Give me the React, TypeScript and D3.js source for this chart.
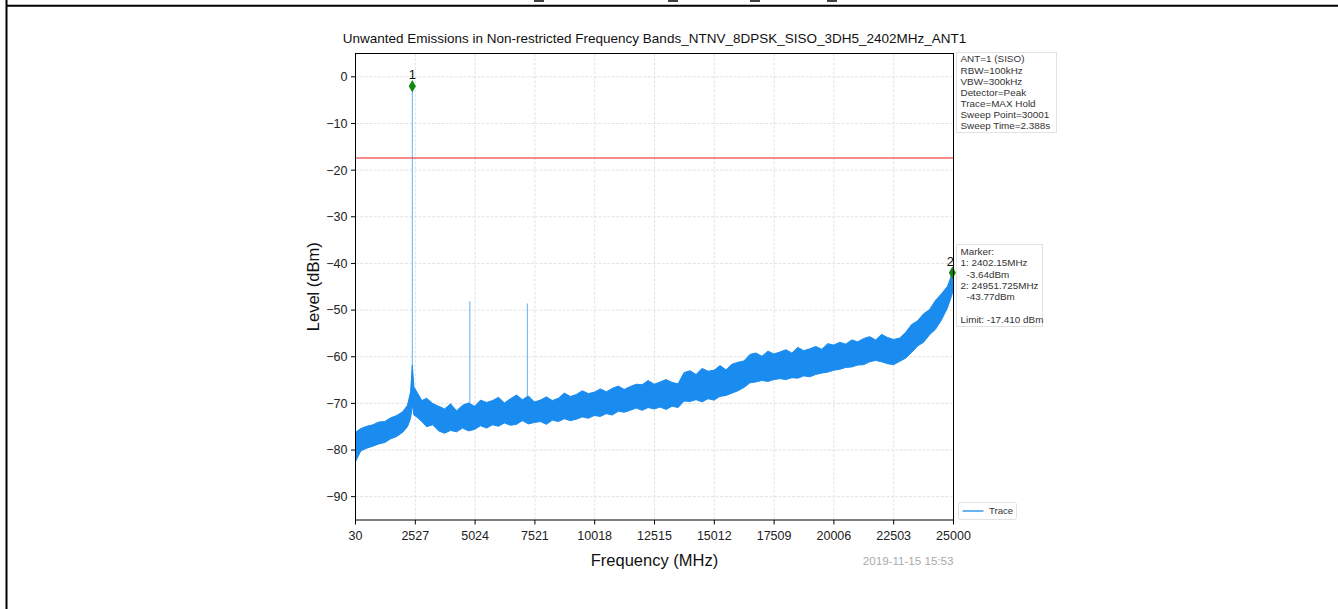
import * as d3 from "d3";

const TITLE = "Unwanted Emissions in Non-restricted Frequency Bands_NTNV_8DPSK_SISO_3DH5_2402MHz_ANT1";
const xTicks = [30, 2527, 5024, 7521, 10018, 12515, 15012, 17509, 20006, 22503, 25000];
const yTicks = [0, -10, -20, -30, -40, -50, -60, -70, -80, -90];
const limitDbm = -17.41;

// trace envelope (MHz, upper dBm, lower dBm)
const traceFreq = [30, 250, 500, 750, 1000, 1250, 1500, 1750, 2000, 2200, 2330, 2402, 2470, 2600, 2800, 3000, 3250, 3500, 3750, 4000, 4250, 4500, 4750, 5000, 5250, 5500, 5750, 6000, 6250, 6500, 6750, 7000, 7250, 7500, 7750, 8000, 8250, 8500, 8750, 9000, 9250, 9500, 9750, 10000, 10250, 10500, 10750, 11000, 11250, 11500, 11750, 12000, 12250, 12500, 12750, 13000, 13250, 13500, 13750, 14000, 14250, 14500, 14750, 15000, 15250, 15500, 15750, 16000, 16250, 16500, 16750, 17000, 17250, 17500, 17750, 18000, 18250, 18500, 18750, 19000, 19250, 19500, 19750, 20000, 20250, 20500, 20750, 21000, 21250, 21500, 21750, 22000, 22250, 22500, 22750, 23000, 23250, 23500, 23750, 24000, 24250, 24500, 24750, 25000];
const traceHigh = [-76.2, -75.4, -74.9, -74.6, -74.0, -73.9, -73.1, -72.6, -71.8, -70.4, -67.5, -61.8, -66.5, -67.6, -69.4, -68.9, -70.0, -70.6, -71.2, -70.1, -71.6, -70.4, -69.9, -70.6, -69.3, -69.8, -69.4, -68.7, -69.9, -69.0, -68.2, -69.2, -68.4, -69.7, -69.3, -68.6, -69.4, -68.9, -67.8, -68.5, -68.1, -67.3, -67.9, -67.6, -66.9, -67.5, -66.8, -66.3, -67.0, -66.4, -65.9, -66.0, -65.1, -65.9, -65.4, -64.9, -65.5, -65.8, -63.4, -63.0, -63.8, -62.5, -63.1, -62.9, -61.9, -62.8, -61.6, -61.2, -60.9, -59.5, -59.2, -59.9, -58.8, -59.4, -59.0, -58.5, -59.2, -58.0, -58.7, -58.3, -57.8, -58.4, -57.2, -57.5, -56.9, -57.3, -56.4, -56.8, -56.1, -55.7, -56.4, -55.2, -55.9, -56.3, -56.0, -54.8, -53.1, -52.3, -50.8, -49.9, -47.9, -46.5, -44.9, -41.4];
const traceLow = [-82.5, -80.2, -79.6, -79.2, -78.7, -78.4, -77.6, -77.1, -76.2, -75.0, -73.2, -70.4, -72.5, -73.0, -73.9, -75.0, -74.6, -75.9, -76.4, -75.8, -76.1, -75.3, -75.9, -75.6, -74.8, -75.3, -74.6, -74.9, -74.2, -74.7, -74.5, -73.7, -74.4, -74.1, -73.9, -74.5, -73.6, -73.9, -73.3, -73.7, -73.4, -72.9, -73.2, -72.6, -72.8, -72.2, -72.5, -71.7, -71.9, -71.5, -71.0, -71.5, -70.9, -71.2, -70.8, -71.3, -70.6, -70.9, -69.5, -69.6, -69.2, -69.7, -69.0, -69.3, -68.5, -68.3, -67.8, -67.3, -66.6, -65.6, -65.4, -65.1, -65.3, -64.9, -64.7, -64.9, -64.5, -64.6, -64.1, -64.3, -63.8, -63.5, -63.3, -62.9, -62.7, -62.3, -62.2, -61.8, -61.7, -61.1, -60.8, -61.1, -61.5, -61.7, -61.0, -60.3, -59.1, -57.7, -56.9, -55.3, -54.1, -52.1, -49.5, -45.7];

const spikeFreq = [2402.15, 4804, 7206];
const spikeTop = [-2.0, -48.1, -48.6];
const spikeBase = [-70, -73, -72];

const markerName = ["1", "2"];
const markerFreq = [2402.15, 24951.725];
const markerLevel = [-2.0, -42.0];

const settingsLines = ["ANT=1 (SISO)", "RBW=100kHz", "VBW=300kHz", "Detector=Peak", "Trace=MAX Hold", "Sweep Point=30001", "Sweep Time=2.388s"];
const markerLines = ["Marker:", "1: 2402.15MHz", "-3.64dBm", "2: 24951.725MHz", "-43.77dBm", "", "Limit: -17.410 dBm"];
const markerIndent = [0, 0, 1, 0, 1, 0, 0];
const stamp = "2019-11-15 15:53";

const W = 1338;
const H = 609;
const m = { left: 355.5, right: 953.5, top: 53.5, bottom: 520 };
const FONT = "'Liberation Sans', Arial, sans-serif";
const BLUE = "#1a8cf0";

export default function App() {
  const x = d3.scaleLinear().domain([30, 25000]).range([m.left, m.right]);
  const y = d3.scaleLinear().domain([-95, 5]).range([m.bottom, m.top]);

  const band = d3.area<number>()
    .x((_, i) => x(traceFreq[i]))
    .y0((_, i) => y(traceLow[i]))
    .y1((_, i) => y(traceHigh[i]));

  const diamond = d3.symbol().type(d3.symbolDiamond).size(44);

  return (
    <svg width={W} height={H} style={{ position: "fixed", left: 0, top: 0, background: "#fff" }} fontFamily={FONT}>
      {/* page frame */}
      <line x1={6.5} x2={6.5} y1={0} y2={H} stroke="#000" strokeWidth={2} />
      <line x1={6} x2={W} y1={5.8} y2={5.8} stroke="#000" strokeWidth={2} />
      {[539, 673, 755, 832].map(px => (
        <line key={px} x1={px - 5} x2={px + 5} y1={1} y2={1} stroke="#000" strokeWidth={1.5} />
      ))}

      <text x={(m.left + m.right) / 2} y={43} textAnchor="middle" fontSize={13.5} fill="#111">{TITLE}</text>

      {/* grid */}
      {yTicks.map(t => (
        <line key={"gy" + t} x1={m.left} x2={m.right} y1={y(t)} y2={y(t)} stroke="#dcdcdc" strokeWidth={0.8} strokeDasharray="3,1.5" />
      ))}
      {xTicks.map(t => (
        <line key={"gx" + t} x1={x(t)} x2={x(t)} y1={m.top} y2={m.bottom} stroke="#dcdcdc" strokeWidth={0.8} strokeDasharray="3,1.5" />
      ))}

      {/* trace */}
      <path d={band(traceFreq) ?? ""} fill={BLUE} stroke={BLUE} strokeWidth={1} />
      {spikeFreq.map((f, i) => (
        <line key={"s" + i} x1={x(f)} x2={x(f)} y1={y(spikeBase[i])} y2={y(spikeTop[i])} stroke={BLUE} strokeWidth={0.9} opacity={0.75} />
      ))}

      {/* limit */}
      <line x1={m.left} x2={m.right} y1={y(limitDbm)} y2={y(limitDbm)} stroke="#f01818" strokeWidth={1.1} />

      {/* markers */}
      {markerFreq.map((f, i) => (
        <g key={"m" + i}>
          <path d={diamond() ?? ""} transform={`translate(${x(f)},${y(markerLevel[i])})`} fill="#118811" />
          <text x={x(f) - (i === 1 ? 2 : 0)} y={y(markerLevel[i]) - 7} textAnchor="middle" fontSize={13} fill="#111">{markerName[i]}</text>
        </g>
      ))}

      {/* axes frame */}
      <rect x={m.left} y={m.top} width={m.right - m.left} height={m.bottom - m.top} fill="none" stroke="#000" strokeWidth={1} />
      {yTicks.map(t => (
        <g key={"ty" + t}>
          <line x1={m.left - 4.5} x2={m.left} y1={y(t)} y2={y(t)} stroke="#000" />
          <text x={m.left - 8} y={y(t)} dy="0.35em" textAnchor="end" fontSize={12.5} fill="#222">{t < 0 ? "\u2212" + Math.abs(t) : t}</text>
        </g>
      ))}
      {xTicks.map(t => (
        <g key={"tx" + t}>
          <line x1={x(t)} x2={x(t)} y1={m.bottom} y2={m.bottom + 4.5} stroke="#000" />
          <text x={x(t)} y={m.bottom + 19.5} textAnchor="middle" fontSize={12.5} fill="#222">{t}</text>
        </g>
      ))}

      <text x={(m.left + m.right) / 2} y={566} textAnchor="middle" fontSize={16.5} fill="#111">Frequency (MHz)</text>
      <text transform={`translate(319,${(m.top + m.bottom) / 2}) rotate(-90)`} textAnchor="middle" fontSize={16.5} fill="#111">Level (dBm)</text>
      <text x={m.right} y={565} textAnchor="end" fontSize={11.6} fill="#aaa">{stamp}</text>

      {/* settings box */}
      <rect x={956.5} y={52.5} width={100} height={80} fill="#fff" stroke="#e2e2e2" />
      {settingsLines.map((s, i) => (
        <text key={"st" + i} x={960.5} y={59 + i * 11.1} dy="0.35em" fontSize={9.9} fill="#333">{s}</text>
      ))}

      {/* marker box */}
      <rect x={956.5} y={244.5} width={86} height={82} fill="#fff" stroke="#e2e2e2" />
      {markerLines.map((s, i) => (
        <text key={"ml" + i} x={960.5 + markerIndent[i] * 6} y={251.7 + i * 11.3} dy="0.35em" fontSize={9.9} fill="#333">{s}</text>
      ))}

      {/* legend */}
      <rect x={958.5} y={502.5} width={58} height={17} fill="#fff" stroke="#e2e2e2" rx={2} />
      <line x1={962.5} x2={983.5} y1={511} y2={511} stroke={BLUE} strokeWidth={1.3} />
      <text x={989} y={511} dy="0.35em" fontSize={9.6} fill="#333">Trace</text>
    </svg>
  );
}
